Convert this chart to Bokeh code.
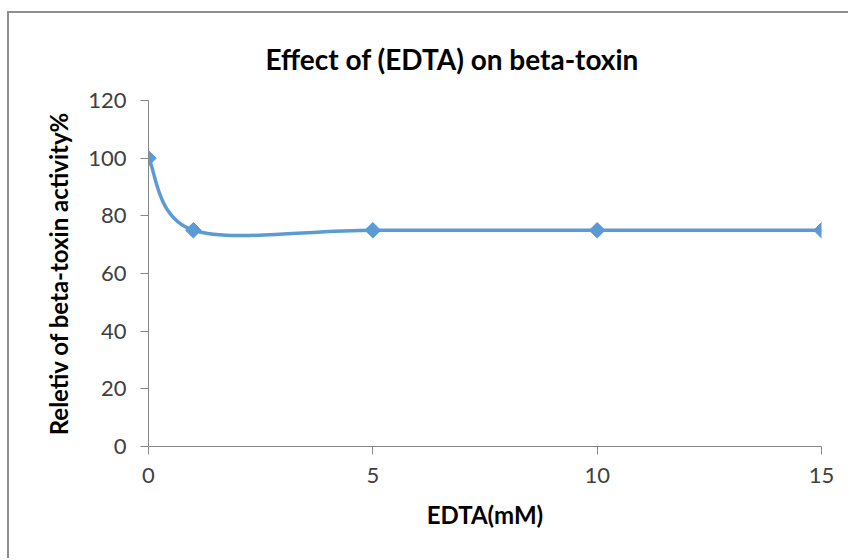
from bokeh.plotting import figure
from bokeh.models import Range1d, FixedTicker
from bokeh.embed import file_html
from bokeh.resources import INLINE

# ---- data ----
edta_mM = [0, 1, 5, 10, 15]
activity = [100, 75, 75, 75, 75]
x_ticks = [0, 5, 10, 15]
y_ticks = [0, 20, 40, 60, 80, 100, 120]
title_text = "Effect of (EDTA) on beta-toxin"
x_label = "EDTA(mM)"
y_label = "Reletiv of beta-toxin activity%"

# ---- smoothed line (Excel-like Catmull-Rom Bezier) ----
n = len(edta_mM)
x0s, y0s, x1s, y1s, cx0s, cy0s, cx1s, cy1s = ([] for _ in range(8))
for i in range(n - 1):
    ip = max(i - 1, 0)
    inn = min(i + 2, n - 1)
    x0, y0 = edta_mM[i], activity[i]
    x1, y1 = edta_mM[i + 1], activity[i + 1]
    cx0 = x0 + (x1 - edta_mM[ip]) / 6.0
    cy0 = y0 + (y1 - activity[ip]) / 6.0
    cx1 = x1 - (edta_mM[inn] - x0) / 6.0
    cy1 = y1 - (activity[inn] - y0) / 6.0
    x0s.append(x0); y0s.append(y0); x1s.append(x1); y1s.append(y1)
    cx0s.append(cx0); cy0s.append(cy0); cx1s.append(cx1); cy1s.append(cy1)

W, H = 841, 547
p = figure(width=W, height=H, output_backend="svg", toolbar_location=None,
           x_range=Range1d(0, 15), y_range=Range1d(0, 120),
           min_border_left=139, min_border_right=29, min_border_top=87, min_border_bottom=114,
           styles={"margin-left": "7px", "margin-top": "11px",
                   "border-left": "2px solid #8e8e8e", "border-top": "2px solid #8e8e8e"})
p.outline_line_color = None
p.xgrid.grid_line_color = None
p.ygrid.grid_line_color = None
p.background_fill_color = "white"
p.border_fill_color = "white"

font = "Lato"
for ax in (p.xaxis[0], p.yaxis[0]):
    ax.axis_line_color = "#868686"
    ax.major_tick_line_color = "#868686"
    ax.major_tick_out = 8
    ax.major_tick_in = 0
    ax.minor_tick_line_color = None
    ax.major_label_text_font = font
    ax.major_label_text_font_size = "22px"
    ax.major_label_text_color = "#404040"
    ax.axis_label_text_font = font
    ax.axis_label_text_font_size = "24px"
    ax.axis_label_text_font_style = "bold"
    ax.axis_label_text_color = "#000000"

p.xaxis.ticker = FixedTicker(ticks=x_ticks)
p.yaxis.ticker = FixedTicker(ticks=y_ticks)
p.xaxis.major_label_standoff = 13
p.yaxis.major_label_standoff = 14
p.xaxis.axis_label = x_label
p.yaxis.axis_label = y_label
p.xaxis.axis_label_standoff = 14
p.yaxis.axis_label_standoff = 12

p.bezier(x0=x0s, y0=y0s, x1=x1s, y1=y1s, cx0=cx0s, cy0=cy0s, cx1=cx1s, cy1=cy1s,
         line_color="#5B9BD5", line_width=3.5)
p.scatter(edta_mM, activity, marker="square", size=11, angle=0.785398,
          fill_color="#5B9BD5", line_color="#5B9BD5")

p.title.text = title_text
p.title.align = "left"
p.title.offset = 117
p.title.text_font = font
p.title.text_font_size = "28px"
p.title.text_font_style = "bold"
p.title.text_color = "#000000"
p.title.standoff = 50

open("out.html", "w").write(file_html(p, INLINE))
